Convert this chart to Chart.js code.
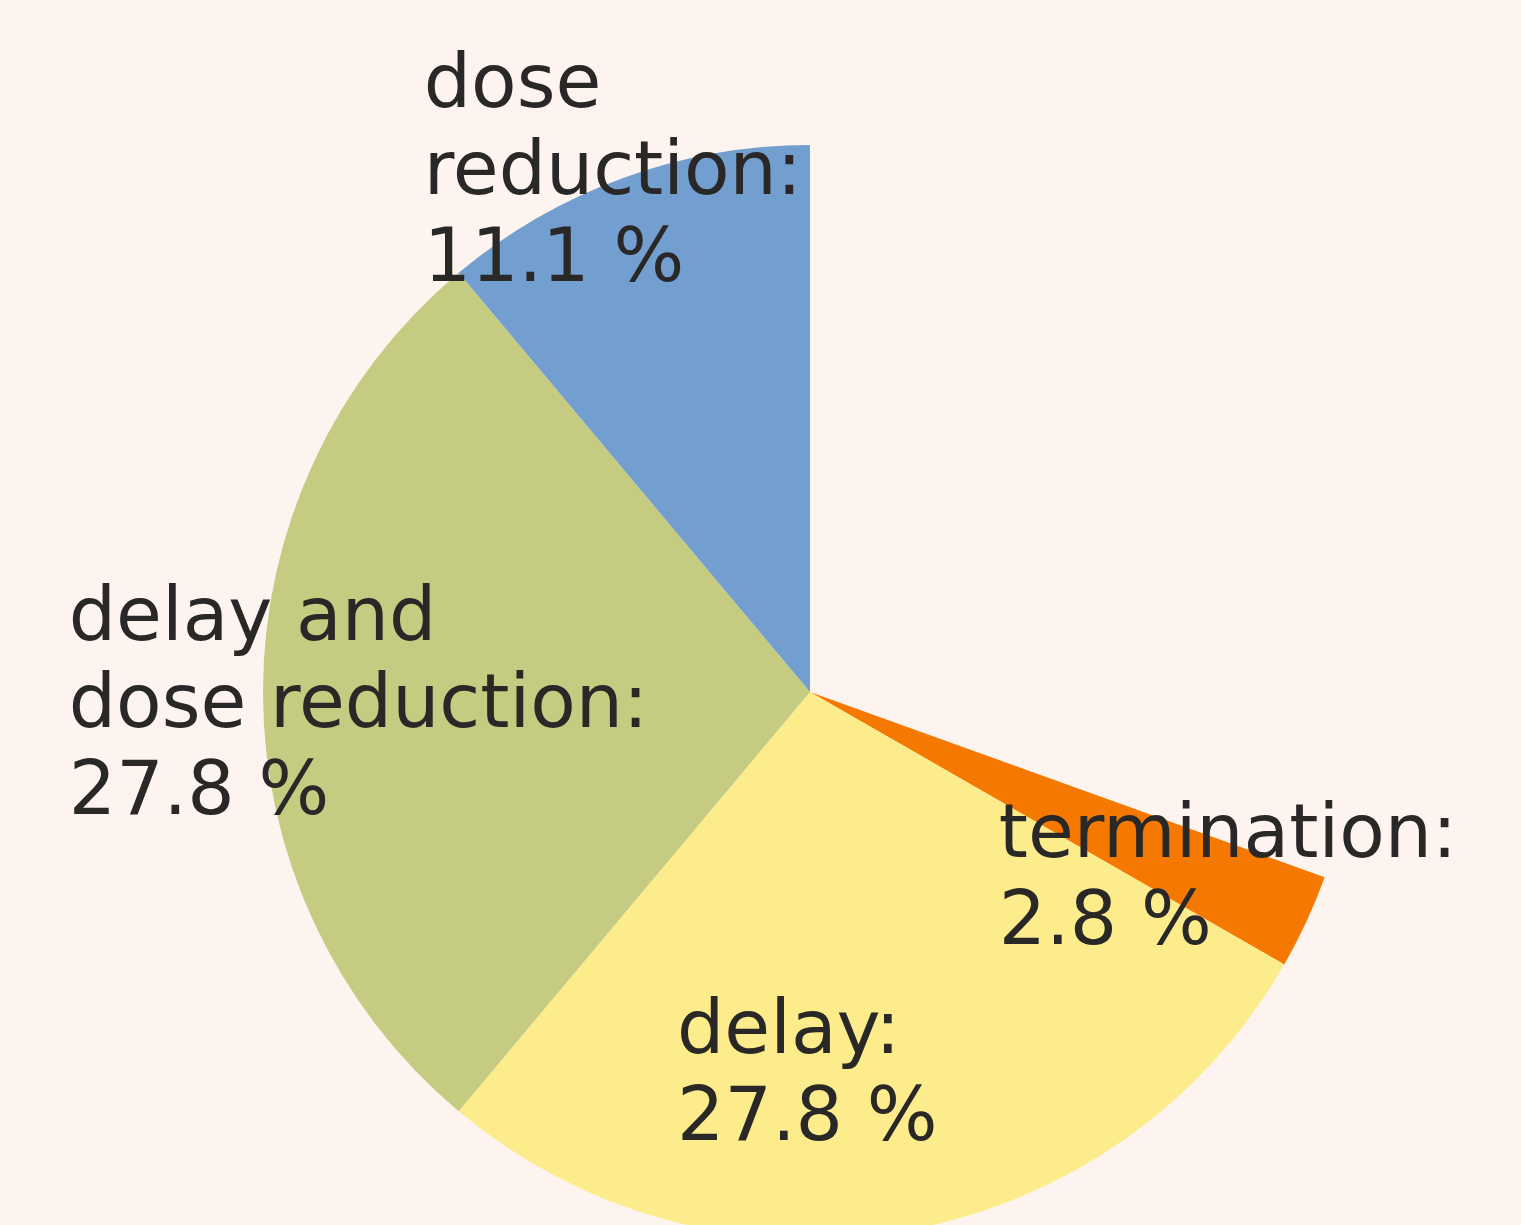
<!DOCTYPE html>
<html>
<head>
<meta charset="utf-8">
<script src="https://cdn.jsdelivr.net/npm/chart.js@4/dist/chart.umd.min.js"></script>
<style>
  body { margin: 0; background: #fef4ef; }
  canvas { display: block; }
</style>
</head>
<body>
<canvas id="pieChart" width="1521" height="1225"></canvas>
<script>
// slices, counter-clockwise from 12 o'clock
const categories = ['dose reduction', 'delay and dose reduction', 'delay', 'termination'];
const shares = [11.1, 27.8, 27.8, 2.8];
const labelLines = [
  ['dose', 'reduction:'],
  ['delay and', 'dose reduction:'],
  ['delay:'],
  ['termination:']
];
const sliceColors = ['#729fcf', '#c5cb80', '#fdec8b', '#f57900'];
// where the text block starts, relative to the pie centre, in radii
const labelOffsets = [[-0.706, -1.069], [-1.355, -0.095], [-0.243, 0.660], [0.345, 0.302]];

// the part of the circle that is not covered stays empty
const rest = 100 - shares.reduce((a, b) => a + b, 0);
const chartValues = [rest].concat(shares.slice().reverse());
const chartColors = ['rgba(0,0,0,0)'].concat(sliceColors.slice().reverse());

const pieLabels = {
  id: 'pieLabels',
  afterDatasetsDraw(chart) {
    const ctx = chart.ctx;
    const arcs = chart.getDatasetMeta(0).data;
    ctx.save();
    ctx.font = '74.5px "DejaVu Sans"';
    ctx.fillStyle = '#2a2827';
    ctx.textAlign = 'left';
    ctx.textBaseline = 'alphabetic';
    categories.forEach((c, i) => {
      const arc = arcs[arcs.length - 1 - i];
      const r = arc.outerRadius;
      const x = arc.x + labelOffsets[i][0] * r;
      let y = arc.y + labelOffsets[i][1] * r;
      const lines = labelLines[i].concat([shares[i].toFixed(1) + ' %']);
      lines.forEach(line => {
        ctx.fillText(line, x, y);
        y += 87;
      });
    });
    ctx.restore();
  }
};

const ctx = document.getElementById('pieChart');
new Chart(ctx, {
  type: 'pie',
  data: {
    labels: ['none'].concat(categories.slice().reverse()),
    datasets: [{
      data: chartValues,
      backgroundColor: chartColors,
      borderWidth: 0,
      radius: 547,
      clip: false
    }]
  },
  options: {
    responsive: false,
    animation: false,
    events: [],
    layout: { padding: { left: 99, top: 159, right: 0, bottom: 0 } },
    plugins: { legend: { display: false }, tooltip: { enabled: false } }
  },
  plugins: [pieLabels]
});
</script>
</body>
</html>
